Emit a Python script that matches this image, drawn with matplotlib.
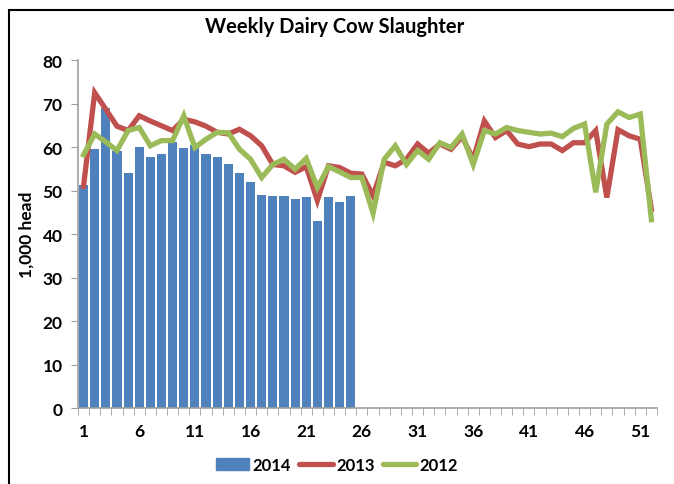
import numpy as np
import matplotlib
matplotlib.use("Agg")
import matplotlib.pyplot as plt
from matplotlib.patches import Patch, Rectangle
from matplotlib.lines import Line2D

plt.rcParams['font.family'] = ['Lato', 'DejaVu Sans']

weeks = np.arange(1, 53)

# 2014 (weeks 1-25 only)
y2014 = [51.3, 59.5, 69.1, 59.2, 54.0, 60.0, 57.8, 58.5, 61.2, 59.8,
         60.5, 58.3, 57.8, 56.0, 54.0, 52.0, 49.0, 48.8, 48.8, 48.0,
         48.6, 43.0, 48.6, 47.3, 48.8]

y2013 = [51.0, 72.5, 68.7, 64.8, 63.8, 67.2, 66.0, 64.9, 63.8, 66.4,
         65.8, 64.8, 63.4, 63.0, 64.1, 62.6, 60.3, 56.0, 55.7, 54.2,
         55.5, 47.7, 55.7, 55.3, 54.0, 53.8, 48.8, 56.5, 55.7, 57.2,
         60.7, 58.6, 60.7, 59.5, 62.4, 57.2, 66.0, 62.2, 63.8, 60.7,
         60.1, 60.7, 60.7, 59.2, 61.0, 61.0, 63.8, 48.4, 64.0, 62.6,
         61.8, 45.7]

y2012 = [58.2, 63.0, 61.2, 59.2, 63.8, 64.5, 60.3, 61.5, 61.5, 67.2,
         59.9, 61.8, 63.4, 63.3, 59.5, 57.2, 53.0, 56.0, 57.2, 54.9,
         57.4, 50.7, 55.5, 54.3, 53.0, 53.0, 44.8, 57.2, 60.3, 56.0,
         59.2, 57.2, 61.0, 59.9, 63.0, 56.0, 63.8, 63.0, 64.5, 63.8,
         63.4, 63.0, 63.2, 62.4, 64.3, 65.3, 49.6, 65.3, 68.1, 66.8,
         67.6, 43.3]

blue = '#4F81BD'
red = '#C0504D'
green = '#9BBB59'

fig = plt.figure(figsize=(6.74, 4.85), dpi=100)
ax = fig.add_axes([0.1157, 0.1567, 0.859, 0.7173])

ax.bar(weeks[:len(y2014)], y2014, width=0.82, color=blue, zorder=2)
ax.plot(weeks, y2013, color=red, lw=3.8, solid_joinstyle='miter', zorder=3)
ax.plot(weeks, y2012, color=green, lw=3.8, solid_joinstyle='miter', zorder=4)

ax.set_xlim(0.5, 52.5)
ax.set_ylim(0, 80)
ax.set_yticks(np.arange(0, 81, 10))
ax.set_xticks(np.arange(1, 53, 5))
ax.set_xticks(np.arange(0.5, 53, 1), minor=True)
ax.tick_params(axis='x', which='major', length=0, pad=11)
ax.tick_params(axis='x', which='minor', length=5, color='#A0A0A0', direction='out')
ax.tick_params(axis='y', length=5, color='#A0A0A0', direction='out', pad=6)
for lab in ax.get_xticklabels() + ax.get_yticklabels():
    lab.set_fontweight('bold')
    lab.set_fontsize(12.5)

for s in ['top', 'right']:
    ax.spines[s].set_visible(False)
for s in ['left', 'bottom']:
    ax.spines[s].set_color('#A0A0A0')
    ax.spines[s].set_linewidth(1.2)

ax.set_ylabel('1,000 head', fontsize=12.5, fontweight='bold', labelpad=6)
fig.text(0.497, 0.944, 'Weekly Dairy Cow Slaughter', ha='center', va='center',
         fontsize=14.5, fontweight='bold')

handles = [Patch(color=blue, label='2014'),
           Line2D([], [], color=red, lw=3.8, solid_capstyle='round', label='2013'),
           Line2D([], [], color=green, lw=3.8, solid_capstyle='round', label='2012')]
fig.legend(handles=handles, loc='center', bbox_to_anchor=(0.5, 0.039), ncol=3,
           frameon=False, prop={'weight': 'bold', 'size': 12},
           handlelength=2.0, handletextpad=0.2, columnspacing=0.5)

# document frame around the chart
fig.add_artist(Rectangle((9 / 674, -0.1), 1.2, 1.1 - 11 / 485, transform=fig.transFigure,
                         fill=False, edgecolor='black', lw=1.5, clip_on=False))

fig.savefig('out.png', dpi=100)
